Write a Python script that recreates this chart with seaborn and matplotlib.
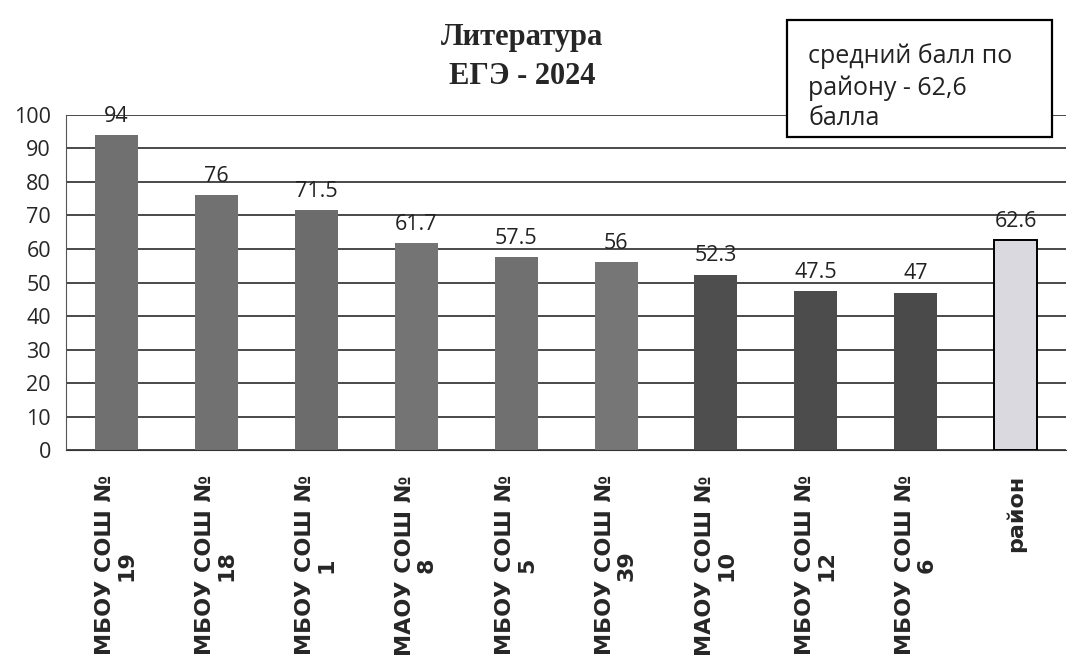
import matplotlib
matplotlib.use("Agg")
import matplotlib.pyplot as plt
import matplotlib.patches as mpatches
import seaborn as sns
import numpy as np

categories = ["МБОУ СОШ №\n19", "МБОУ СОШ №\n18", "МБОУ СОШ №\n1", "МАОУ СОШ №\n8",
              "МБОУ СОШ №\n5", "МБОУ СОШ №\n39", "МАОУ СОШ №\n10", "МБОУ СОШ №\n12",
              "МБОУ СОШ №\n6", "район"]
values = [94, 76, 71.5, 61.7, 57.5, 56, 52.3, 47.5, 47, 62.6]
value_labels = ["94", "76", "71.5", "61.7", "57.5", "56", "52.3", "47.5", "47", "62.6"]
yticks = [0, 10, 20, 30, 40, 50, 60, 70, 80, 90, 100]
colors = ["#707070", "#717171", "#6c6c6c", "#747474", "#707070", "#767676",
          "#4e4e4e", "#4c4c4c", "#4a4a4a", "#d9d9df"]

sns.set_style("white")
plt.rcParams['font.family'] = ['DejaVu Sans']

fig = plt.figure(figsize=(10.68, 6.68), dpi=100)
ax = fig.add_axes([0.062, 0.326, 0.936, 0.502])

sns.barplot(x=categories, y=values, hue=categories, palette=colors, legend=False,
            width=0.43, ax=ax, edgecolor="none", saturation=1)
ax.patches[-1].set_edgecolor("black")
ax.patches[-1].set_linewidth(1.4)

ax.set_ylim(0, 100)
ax.set_xlim(-0.5, 9.5)
ax.set_yticks(yticks)
ax.set_yticklabels([str(t) for t in yticks], fontsize=15.5, family="Open Sans")
ax.yaxis.grid(True, color="#2a2a2a", linewidth=1.2)
ax.set_axisbelow(True)
for s in ["top", "right"]:
    ax.spines[s].set_visible(False)
ax.spines["left"].set_color("#555555")
ax.spines["bottom"].set_color("#333333")
ax.tick_params(axis="y", length=8, color="#555555", direction="out", pad=3)

ax.set_xticks(range(len(categories)))
ax.set_xticklabels(categories, rotation=90, fontsize=16, fontweight="bold",
                   family="DejaVu Sans", linespacing=1.1)
ax.tick_params(axis="x", length=0, pad=18)
ax.set_xticks(np.arange(-0.5, 10, 1), minor=True)
ax.tick_params(axis="x", which="minor", length=7, color="#333333")

for i, (v, t) in enumerate(zip(values, value_labels)):
    ax.text(i, v + 2.5, t, ha="center", va="bottom", fontsize=15.5, family="Open Sans",
            color="#222222")

ax.set_xlabel("")
ax.set_ylabel("")

fig.text(0.489, 0.965, "Литература\nЕГЭ - 2024", ha="center", va="top", fontsize=22,
         fontweight="bold", family="Liberation Serif", linespacing=1.45)

box = mpatches.Rectangle((0.737, 0.795), 0.248, 0.175, transform=fig.transFigure,
                         facecolor="white", edgecolor="black", linewidth=1.6)
fig.add_artist(box)
fig.text(0.757, 0.935, "средний балл по\nрайону - 62,6\nбалла", ha="left", va="top",
         fontsize=18, family="Open Sans", linespacing=1.3, color="#222222")

fig.savefig("out.png", dpi=100, facecolor="white")
